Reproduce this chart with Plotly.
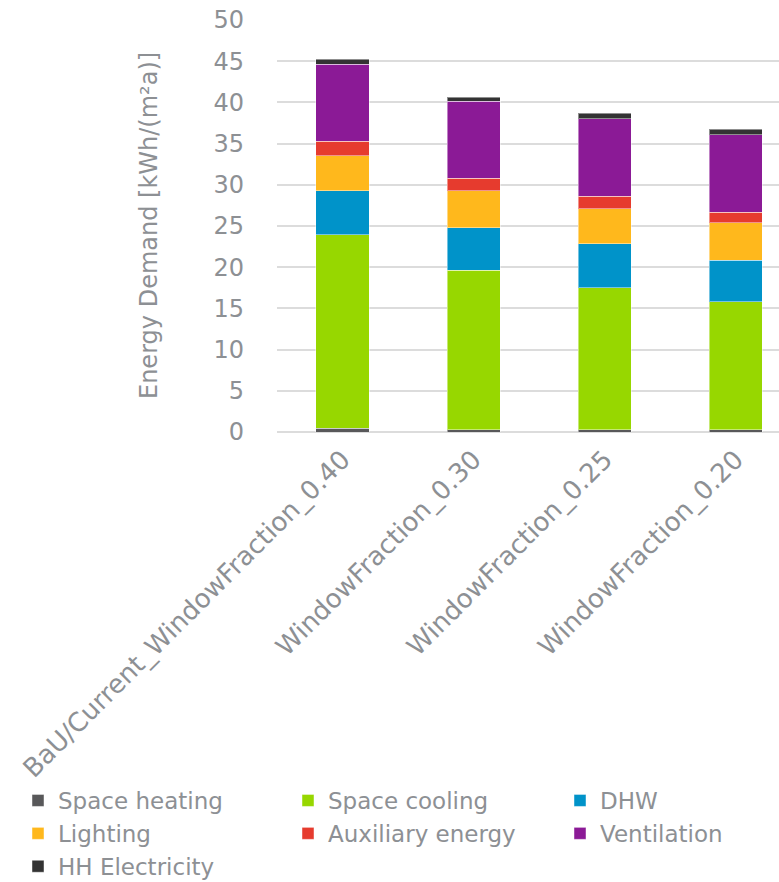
import plotly.graph_objects as go

# Scenarios on the x axis
categories = [
    "BaU/Current_WindowFraction_0.40",
    "WindowFraction_0.30",
    "WindowFraction_0.25",
    "WindowFraction_0.20",
]

# Energy demand per end use, kWh/(m²a)
space_heating = [0.45, 0.30, 0.30, 0.30]
space_cooling = [23.50, 19.36, 17.18, 15.48]
dhw = [5.30, 5.10, 5.38, 5.09]
lighting = [4.25, 4.49, 4.24, 4.53]
auxiliary_energy = [1.80, 1.55, 1.54, 1.26]
ventilation = [9.36, 9.37, 9.39, 9.42]
hh_electricity = [0.60, 0.43, 0.65, 0.65]

y_ticks = [0, 5, 10, 15, 20, 25, 30, 35, 40, 45, 50]

# (name, values, colour, legend column)
series = [
    ("Space heating", space_heating, "#58585a", "legend"),
    ("Space cooling", space_cooling, "#97d700", "legend2"),
    ("DHW", dhw, "#0093c9", "legend3"),
    ("Lighting", lighting, "#ffb81c", "legend"),
    ("Auxiliary energy", auxiliary_energy, "#e63b2e", "legend2"),
    ("Ventilation", ventilation, "#8b1a96", "legend3"),
    ("HH Electricity", hh_electricity, "#333333", "legend"),
]

FONT = "DejaVu Sans"
TEXT = "#8d9094"
GRID = "#dcdcdc"
W, H = 779, 882
M_L, M_T, M_B = 277, 20, 450
PLOT_W = W - M_L

fig = go.Figure()
for name, values, color, leg in series:
    fig.add_trace(
        go.Bar(
            name=name,
            x=categories,
            y=values,
            legend=leg,
            marker=dict(color=color, line=dict(color="rgba(255,255,255,0.45)", width=1)),
        )
    )


def legend_column(left_px, top_px):
    return dict(
        orientation="v",
        xref="container",
        yref="container",
        x=left_px / W,
        xanchor="left",
        y=1 - top_px / H,
        yanchor="top",
        font=dict(family=FONT, size=23, color=TEXT),
        itemwidth=30,
        traceorder="normal",
        tracegroupgap=0,
        bgcolor="rgba(0,0,0,0)",
    )


fig.update_layout(
    barmode="stack",
    bargap=0.595,
    width=W,
    height=H,
    margin=dict(l=M_L, r=0, t=M_T, b=M_B, autoexpand=False),
    paper_bgcolor="white",
    plot_bgcolor="white",
    font=dict(family=FONT, size=24, color=TEXT),
    legend=legend_column(18, 779),
    legend2=legend_column(288, 779),
    legend3=legend_column(560, 779),
    showlegend=True,
)

# Y axis title, centred on the plot area
fig.add_annotation(
    text="Energy Demand [kWh/(m²a)]",
    xref="paper",
    yref="paper",
    x=(149 - M_L) / PLOT_W,
    y=0.5,
    xanchor="center",
    yanchor="middle",
    textangle=-90,
    showarrow=False,
    font=dict(family=FONT, size=24, color=TEXT),
)

fig.update_xaxes(
    range=[-0.5, 3.33],
    tickangle=-45,
    showgrid=False,
    showline=False,
    ticks="",
    automargin=False,
    ticklabelstandoff=6,
    tickfont=dict(family=FONT, size=26, color=TEXT),
)

fig.update_yaxes(
    range=[0, 50],
    tickvals=y_ticks,
    showgrid=True,
    gridcolor=GRID,
    gridwidth=1.5,
    zeroline=True,
    zerolinecolor=GRID,
    zerolinewidth=1.5,
    ticks="",
    automargin=False,
    ticklabelstandoff=32,
    tickfont=dict(family=FONT, size=24, color=TEXT),
)

fig.write_html("out.html")
